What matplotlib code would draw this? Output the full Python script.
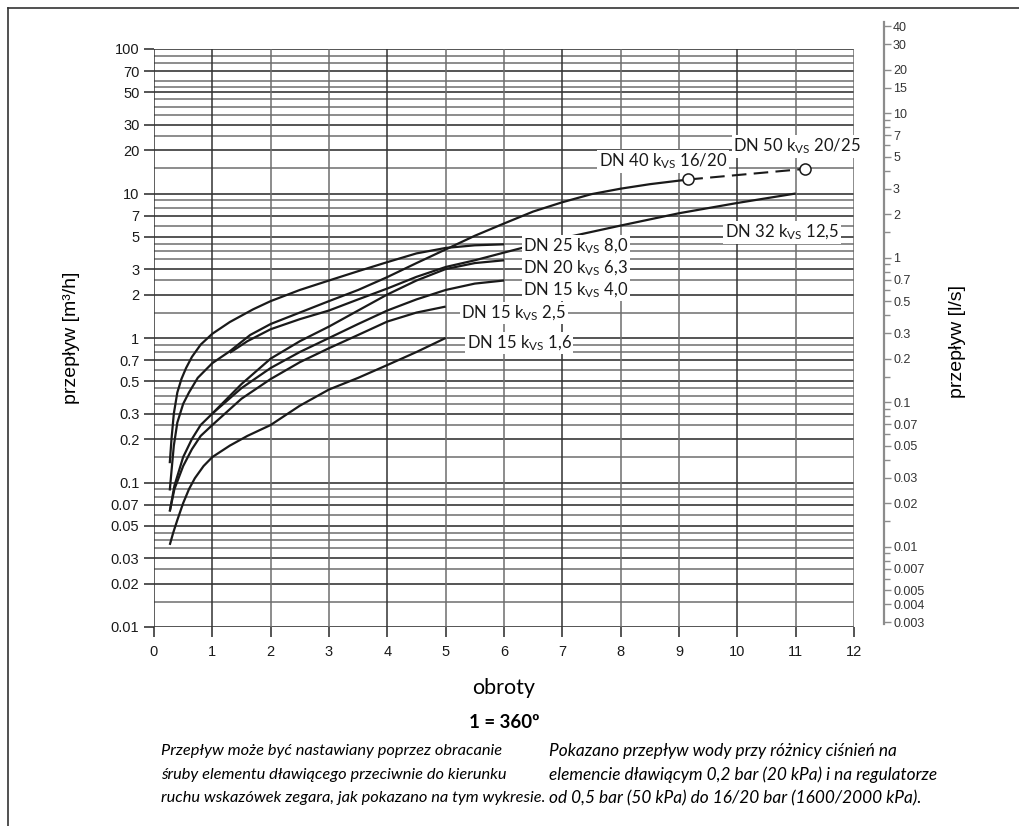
import numpy as np
import matplotlib
matplotlib.use('Agg')
from matplotlib import pyplot as plt
from matplotlib.lines import Line2D

# obroty (turns) vs przeplyw [m3/h]
dn25_x=[0.27,0.30,0.34,0.40,0.47,0.55,0.65,0.80,1.0,1.3,1.7,2.0,2.5,3.0,3.5,4.0,4.5,5.0,5.5,6.0]
dn25_y=[0.136,0.2,0.3,0.42,0.52,0.62,0.74,0.9,1.07,1.29,1.58,1.8,2.15,2.5,2.9,3.35,3.85,4.2,4.38,4.45]

dn40_x=[0.27,0.30,0.34,0.40,0.50,0.60,0.75,1.0,1.3,1.65,2.0,2.5,3.0,3.5,4.0,4.5,5.0,5.5,6.0,6.5,7.0,7.5,8.0,8.5,9.16]
dn40_y=[0.088,0.12,0.18,0.26,0.35,0.42,0.53,0.67,0.81,1.05,1.25,1.5,1.8,2.15,2.64,3.3,4.1,5.1,6.2,7.5,8.7,9.9,10.8,11.6,12.5]

dn32_x=[1.3,1.6,2.0,2.5,3.0,3.5,4.0,4.5,5.0,5.5,6.0,6.5,7.0,8.0,9.0,10.0,11.0]
dn32_y=[0.79,0.95,1.15,1.35,1.55,1.85,2.2,2.65,3.1,3.45,3.9,4.4,4.9,6.0,7.3,8.6,10.0]

dn20_x=[0.27,0.35,0.50,0.65,0.80,1.0,1.5,2.0,2.5,3.0,3.5,4.0,4.5,5.0,5.5,6.0]
dn20_y=[0.063,0.095,0.15,0.2,0.25,0.3,0.48,0.72,0.95,1.2,1.55,2.0,2.5,3.0,3.3,3.45]

dn15_40_x=[1.0,1.5,2.0,2.5,3.0,3.5,4.0,4.5,5.0,5.5,6.0]
dn15_40_y=[0.3,0.45,0.62,0.8,1.0,1.25,1.55,1.85,2.15,2.38,2.5]

dn15_25_x=[0.27,0.35,0.50,0.65,0.80,1.0,1.5,2.0,2.5,3.0,3.5,4.0,4.5,5.0]
dn15_25_y=[0.063,0.09,0.13,0.17,0.21,0.25,0.38,0.52,0.68,0.85,1.05,1.3,1.5,1.65]

dn15_16_x=[0.27,0.33,0.40,0.50,0.60,0.70,0.85,1.0,1.3,1.6,2.0,2.5,3.0,3.5,4.0,4.5,5.0]
dn15_16_y=[0.037,0.045,0.055,0.072,0.09,0.107,0.13,0.15,0.18,0.21,0.25,0.34,0.44,0.53,0.65,0.8,1.0]

dn50_x=[9.16,11.16]
dn50_y=[12.5,14.8]

labels=[r'DN 50 k$_{\mathrm{VS}}$ 20/25',r'DN 40 k$_{\mathrm{VS}}$ 16/20',
        r'DN 32 k$_{\mathrm{VS}}$ 12,5',r'DN 25 k$_{\mathrm{VS}}$ 8,0',
        r'DN 20 k$_{\mathrm{VS}}$ 6,3',r'DN 15 k$_{\mathrm{VS}}$ 4,0',
        r'DN 15 k$_{\mathrm{VS}}$ 2,5',r'DN 15 k$_{\mathrm{VS}}$ 1,6']
label_x=[9.93,7.63,9.79,6.33,6.33,6.33,5.27,5.36]
label_y=[21.3,16.7,5.4,4.32,3.06,2.15,1.49,0.925]

# grid values [m3/h]
grid_top=[10,15,20,25,30,35,40,45,50,55,60,70,80,90,100]
grid_dec=[1,1.5,2,2.5,3,3.5,4,4.5,5,6,7,8,9]
left_ticks=[0.01,0.02,0.03,0.05,0.07,0.1,0.2,0.3,0.5,0.7,1,2,3,5,7,10,20,30,50,70,100]
left_ticklabels=['0.01','0.02','0.03','0.05','0.07','0.1','0.2','0.3','0.5','0.7',
                 '1','2','3','5','7','10','20','30','50','70','100']

# right axis [l/s]
right_ticks=[40,30,20,15,10,7,5,3,2,1,0.7,0.5,0.3,0.2,0.1,0.07,0.05,0.03,0.02,
             0.01,0.007,0.005,0.004,0.003]
right_minor=[9,8,6,4,1.5,0.9,0.8,0.6,0.4,0.15,0.09,0.08,0.06,0.04,0.015,
             0.009,0.008,0.006]

plt.rcParams['font.family']=['Liberation Sans','DejaVu Sans']
plt.rcParams['mathtext.fontset']='custom'
plt.rcParams['mathtext.rm']='Lato'
plt.rcParams['mathtext.it']='Lato:italic'
hum=['Lato','DejaVu Sans']

W,H=1019,826
fig=plt.figure(figsize=(W/100,H/100),dpi=100)

# main axes: x 0..12 at px 154..854, y 100..0.01 at px 49..627
ax=fig.add_axes([154/W,1-627/H,700/W,578/H])
ax.set_yscale('log')
ax.set_xlim(0,12)
ax.set_ylim(0.01,100)
for s in ax.spines.values():
    s.set_visible(False)

grid_vals=[g*10.0**k for k in (-2,-1,0) for g in grid_dec]+grid_top
for v in grid_vals:
    dark=any(abs(v/t-1)<1e-6 for t in left_ticks)
    ax.axhline(v,color='#262626' if dark else '#6e6e6e',lw=1.1,zorder=1)
for i in range(13):
    ax.axvline(i,color='#333333' if i%3==1 or i==0 else '#6e6e6e',lw=1.1,zorder=1)

ax.set_yticks(left_ticks)
ax.set_yticklabels(left_ticklabels)
ax.yaxis.set_minor_locator(matplotlib.ticker.NullLocator())
ax.set_xticks(range(13))
ax.tick_params(axis='both',direction='out',length=7,width=1.1,color='#262626',
               labelsize=10.5,labelcolor='#1a1a1a')
ax.tick_params(axis='x',pad=6)

lc='#1a1a1a'
for xs,ys in [(dn25_x,dn25_y),(dn40_x,dn40_y),(dn32_x,dn32_y),(dn20_x,dn20_y),
              (dn15_40_x,dn15_40_y),(dn15_25_x,dn15_25_y),(dn15_16_x,dn15_16_y)]:
    ax.plot(xs,ys,color=lc,lw=1.6,solid_capstyle='butt',zorder=3)
ax.plot(dn50_x,dn50_y,color=lc,lw=1.5,dashes=(7,3.5),zorder=3)
ax.plot(dn50_x,dn50_y,'o',ms=8,mfc='white',mec=lc,mew=1.1,zorder=4,ls='none')

for t,x,y in zip(labels,label_x,label_y):
    ax.text(x,y,t,fontsize=12,family=hum,va='center',ha='left',color='#1a1a1a',
            bbox=dict(facecolor='white',edgecolor='none',pad=1.2),zorder=5)

ax.set_ylabel('przepływ [m³/h]',fontsize=14,labelpad=22)
ax.set_xlabel('obroty',fontsize=15.5,family=hum,labelpad=14)

# right axis in l/s, same log scale (1 l/s = 3.6 m3/h)
lo,hi=0.0029,43.0
ytop=49+(2-np.log10(hi*3.6))*578/4
ybot=49+(2-np.log10(lo*3.6))*578/4
ax2=fig.add_axes([884/W-0.001,1-ybot/H,0.001,(ybot-ytop)/H])
ax2.set_yscale('log')
ax2.set_ylim(lo,hi)
for k,s in ax2.spines.items():
    s.set_visible(k=='right')
ax2.spines['right'].set_color('#8c8c8c')
ax2.spines['right'].set_linewidth(1.6)
ax2.set_xticks([])
ax2.yaxis.tick_right()
ax2.set_yticks(right_ticks)
ax2.set_yticklabels([('%g'%v) for v in right_ticks])
ax2.set_yticks(right_minor,minor=True)
ax2.yaxis.set_minor_formatter(matplotlib.ticker.NullFormatter())
ax2.tick_params(axis='y',which='both',direction='out',length=5,width=1,color='#8c8c8c',
                labelsize=9,labelcolor='#333333',pad=1.5)
ax2.tick_params(axis='y',which='minor',length=4)

fig.text(958/W,1-342/H,'przepływ [l/s]',rotation=90,fontsize=14,ha='center',va='center')

fig.text(504/W,1-722/H,'1 = 360º',fontsize=13.5,fontweight='bold',family=hum,
         ha='center',va='center')
left_lines=['Przepływ może być nastawiany poprzez obracanie',
            'śruby elementu dławiącego przeciwnie do kierunku',
            'ruchu wskazówek zegara, jak pokazano na tym wykresie.']
right_lines=['Pokazano przepływ wody przy różnicy ciśnień na',
             'elemencie dławiącym 0,2 bar (20 kPa) i na regulatorze',
             'od 0,5 bar (50 kPa) do 16/20 bar (1600/2000 kPa).']
for i,(a,b) in enumerate(zip(left_lines,right_lines)):
    yy=1-(751+23.5*i)/H
    fig.text(161/W,yy,a,fontsize=11.8,style='italic',family=hum,va='center')
    fig.text(549/W,yy,b,fontsize=12.4,style='italic',family=hum,va='center')

# frame of the figure page
fig.add_artist(Line2D([8/W,1],[1-8/H,1-8/H],color='#333333',lw=1.2))
fig.add_artist(Line2D([8/W,8/W],[0,1-8/H],color='#333333',lw=1.2))

plt.savefig('out.png',dpi=100)
